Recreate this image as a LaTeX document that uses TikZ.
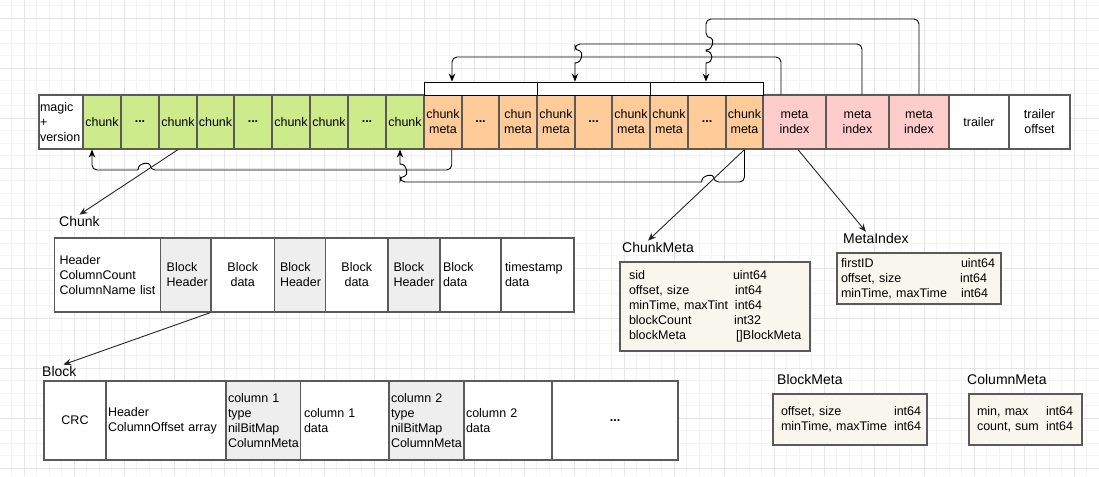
\documentclass[tikz,border=0pt]{standalone}
\usepackage{fontspec}
\setmainfont{Liberation Sans}
\usetikzlibrary{arrows.meta}
\hyphenpenalty=10000
\exhyphenpenalty=10000
\definecolor{cgreen}{HTML}{CDEB8B}
\definecolor{corange}{HTML}{FFCC99}
\definecolor{cpink}{HTML}{FFCCCC}
\definecolor{cgray}{HTML}{EEEEEE}
\definecolor{cbeige}{HTML}{F9F7ED}
\definecolor{cborder}{HTML}{5A5A5A}
\definecolor{gridmin}{HTML}{F4F4F4}
\definecolor{gridmaj}{HTML}{E6E6E6}
\tikzset{
  cell/.style={draw=cborder, line width=1.2pt, inner sep=0pt, align=center,
    font=\fontsize{12.5}{15}\selectfont},
  fgreen/.style={fill=cgreen},
  forange/.style={fill=corange},
  fpink/.style={fill=cpink},
  fgray/.style={fill=cgray},
  fbeige/.style={fill=cbeige},
  fwhite/.style={fill=white},
  bracketbox/.style={draw=black, line width=0.9pt, fill=white, inner sep=0pt},
  conn/.style={draw=black, line width=0.9pt, rounded corners=5pt},
  arrowend/.style={-{Stealth[length=8pt,width=6.5pt]}},
  diag/.style={draw=black!85, line width=0.9pt, -{Stealth[length=8pt,width=6.5pt]}},
  lbl/.style={font=\fontsize{14}{16}\selectfont, inner sep=1pt, anchor=west},
  gridminor/.style={draw=gridmin, line width=0.8pt},
  gridmajor/.style={draw=gridmaj, line width=0.8pt},
}
\newcommand\dotsb{\textbf{...}}
% centered cell: [opts]{name}{x1}{x2}{y1}{y2}{text}
\newcommand\ccell[7][]{%
  \pgfmathsetmacro\cw{#4-#3}\pgfmathsetmacro\ch{#6-#5}%
  \pgfmathsetmacro\cx{(#3+#4)/2}\pgfmathsetmacro\cy{(#5+#6)/2}%
  \node[cell,minimum width=\cw pt,minimum height=\ch pt,#1] (#2) at (\cx,\cy) {#7};}
% left-aligned cell: [opts]{name}{x1}{x2}{y1}{y2}{pad}{text}
\newcommand\lcell[8][]{%
  \pgfmathsetmacro\cw{#4-#3}\pgfmathsetmacro\ch{#6-#5}%
  \pgfmathsetmacro\cx{(#3+#4)/2}\pgfmathsetmacro\cy{(#5+#6)/2}%
  \pgfmathsetmacro\tw{#4-#3-2*#7}%
  \node[cell,minimum width=\cw pt,minimum height=\ch pt,inner xsep=#7pt,
    text width=\tw pt,align=left,#1] (#2) at (\cx,\cy) {#8};}
\begin{document}
\begin{tikzpicture}[x=1pt,y=-1pt]
\useasboundingbox (0,0) rectangle (1099,476);
\fill[white] (0,0) rectangle (1099,476);
% background grid
\foreach \i in {0,...,88} \draw[gridminor] ({-0.7+12.5*\i},0) -- ({-0.7+12.5*\i},476);
\foreach \j in {0,...,38} \draw[gridminor] (0,{5.8+12.5*\j}) -- (1099,{5.8+12.5*\j});
\foreach \i in {0,...,21} \draw[gridmajor] ({24.3+50*\i},0) -- ({24.3+50*\i},476);
\foreach \j in {0,...,9} \draw[gridmajor] (0,{18.3+50*\j}) -- (1099,{18.3+50*\j});

% ---------- top row ----------
\lcell[fwhite]{magic}{39}{83}{95}{149}{1}{magic\\+\\version}
\ccell[fgreen]{c1}{83}{121}{95}{149}{chunk}
\ccell[fgreen]{c2}{121}{159}{95}{149}{\dotsb}
\ccell[fgreen]{c3}{159}{197}{95}{149}{chunk}
\ccell[fgreen]{c4}{197}{234}{95}{149}{chunk}
\ccell[fgreen]{c5}{234}{272}{95}{149}{\dotsb}
\ccell[fgreen]{c6}{272}{310}{95}{149}{chunk}
\ccell[fgreen]{c7}{310}{348}{95}{149}{chunk}
\ccell[fgreen]{c8}{348}{386}{95}{149}{\dotsb}
\ccell[fgreen]{c9}{386}{424}{95}{149}{chunk}
\ccell[forange]{o1}{424}{462}{95}{149}{chunk\\meta}
\ccell[forange]{o2}{462}{499}{95}{149}{\dotsb}
\ccell[forange]{o3}{499}{537}{95}{149}{chun\\meta}
\ccell[forange]{o4}{537}{575}{95}{149}{chunk\\meta}
\ccell[forange]{o5}{575}{612}{95}{149}{\dotsb}
\ccell[forange]{o6}{612}{650}{95}{149}{chunk\\meta}
\ccell[forange]{o7}{650}{688}{95}{149}{chunk\\meta}
\ccell[forange]{o8}{688}{726}{95}{149}{\dotsb}
\ccell[forange]{o9}{726}{763}{95}{149}{chunk\\meta}
\ccell[fpink]{m1}{763}{826}{95}{149}{meta\\index}
\ccell[fpink]{m2}{826}{889}{95}{149}{meta\\index}
\ccell[fpink]{m3}{889}{949}{95}{149}{meta\\index}
\ccell[fwhite]{trl}{949}{1009}{95}{149}{trailer}
\ccell[fwhite]{trlo}{1009}{1070}{95}{149}{trailer\\offset}
% brackets above chunk meta groups
\node[bracketbox,minimum width=113pt,minimum height=13pt] (b1) at (480.5,88.5) {};
\node[bracketbox,minimum width=113pt,minimum height=13pt] (b2) at (593.5,88.5) {};
\node[bracketbox,minimum width=113pt,minimum height=13pt] (b3) at (706.5,88.5) {};

% ---------- top connectors ----------
\draw[conn,arrowend] ([xshift=-13.5pt]m1.north) -- (781,57) -- (452,57) -- ([xshift=-28.5pt]b1.north);
\draw[conn,arrowend] ([xshift=4.5pt]m2.north) -- (862,44) -- (575,44) -- (575,51)
  [sharp corners] .. controls (583,51) and (583,63) .. (575,63)
  [rounded corners=5pt] -- ([xshift=-18.5pt]b2.north);
\draw[conn,arrowend] (m3.north) -- (919,19) -- (706,19) -- (706,38)
  [sharp corners] .. controls (714,38) and (714,50) .. (706,50) -- (706,51)
  .. controls (714,51) and (714,63) .. (706,63)
  [rounded corners=5pt] -- ([xshift=-0.5pt]b3.north);

% ---------- bottom connectors ----------
\draw[conn,arrowend] ([xshift=8.7pt]o1.south) -- (451.7,170) -- (150,170)
  [sharp corners] .. controls (150,162) and (138,162) .. (138,170)
  [rounded corners=5pt] -- (92,170) -- ([xshift=-10pt]c1.south);
\draw[conn,arrowend] (o9.south) -- (744.5,182) -- (713.6,182)
  [sharp corners] .. controls (713.6,174) and (701.6,174) .. (701.6,182)
  [rounded corners=5pt] -- (400,182) -- (400,176)
  [sharp corners] .. controls (408,176) and (408,164) .. (400,164)
  [rounded corners=5pt] -- ([xshift=-5pt]c9.south);

% ---------- labels ----------
\node[lbl] (lblC) at (58,221) {Chunk};
\node[lbl] (lblB) at (41,371) {Block};
\node[lbl] (lblCM) at (621,247) {ChunkMeta};
\node[lbl] (lblMI) at (842,238) {MetaIndex};
\node[lbl] (lblBM) at (776,379) {BlockMeta};
\node[lbl] (lblCol) at (966,379) {ColumnMeta};

% ---------- chunk table ----------
\lcell[fwhite]{h0}{54.5}{160.7}{238}{312}{5}{Header\\ColumnCount\\\mbox{ColumnName list}}
\lcell[fgray]{bh1}{160.7}{211}{238}{312}{6}{Block\\Header}
\ccell[fwhite]{bd1}{211}{274.5}{238}{312}{Block\\data}
\lcell[fgray]{bh2}{274.5}{325.5}{238}{312}{5.5}{Block\\Header}
\ccell[fwhite]{bd2}{325.5}{388}{238}{312}{Block\\data}
\lcell[fgray]{bh3}{388}{440}{238}{312}{5.5}{Block\\Header}
\lcell[fwhite]{bd3}{440}{501}{238}{312}{3}{Block\\data}
\lcell[fwhite]{ts}{501}{574}{238}{312}{4}{timestamp\\data}

% ---------- block table ----------
\ccell[fwhite]{crc}{44}{106}{381}{460}{CRC}
\lcell[fwhite]{bhdr}{106}{226}{381}{460}{2}{Header\\ColumnOffset array}
\lcell[fgray]{c1t}{226}{300.5}{381}{460}{2}{column 1\\type\\nilBitMap\\ColumnMeta}
\lcell[fwhite]{c1d}{300.5}{389}{381}{460}{3.5}{column 1\\data}
\lcell[fgray]{c2t}{389}{464}{381}{460}{2}{column 2\\type\\nilBitMap\\ColumnMeta}
\lcell[fwhite]{c2d}{464}{552}{381}{460}{2}{column 2\\data}
\ccell[fwhite]{bdots}{552}{678}{381}{460}{\dotsb}

% ---------- structure boxes ----------
\lcell[fbeige]{cmbox}{620}{810}{262}{351}{9}{\makebox[104pt][l]{sid}uint64\\\makebox[106pt][l]{offset, size}int64\\\makebox[106pt][l]{minTime, maxTint}int64\\\makebox[105pt][l]{blockCount}int32\\\makebox[107pt][l]{blockMeta}[]BlockMeta}
\lcell[fbeige]{mibox}{837}{1001}{253}{304}{4}{\makebox[120pt][l]{firstID}uint64\\\makebox[119pt][l]{offset, size}int64\\\makebox[120pt][l]{minTime, maxTime}int64}
\lcell[fbeige]{bmbox}{773}{927}{394}{445}{8}{\makebox[113pt][l]{offset, size}int64\\\makebox[113pt][l]{minTime, maxTime}int64}
\lcell[fbeige]{colbox}{969}{1082}{394}{445}{8}{\makebox[69pt][l]{min, max}int64\\\makebox[69pt][l]{count, sum}int64}

% ---------- diagonal pointers ----------
\draw[diag] (c3.south) -- (lblC.north);
\draw[diag] (bd1.south west) -- ([xshift=4pt]lblB.north);
\draw[diag] (o9.south) -- ([xshift=-10pt]lblCM.north);
\draw[diag] ([xshift=3.5pt]m1.south) -- ([xshift=-10pt]lblMI.north);
\end{tikzpicture}
\end{document}
